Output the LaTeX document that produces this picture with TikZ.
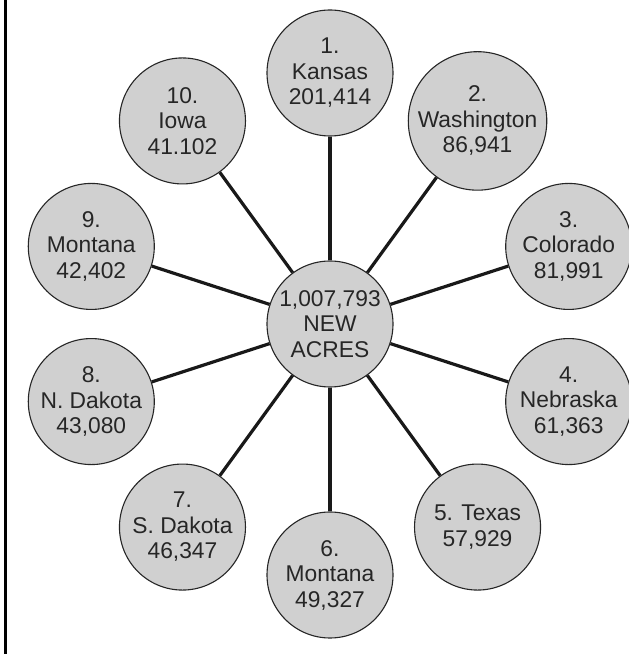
\documentclass[tikz,border=0pt]{standalone}
\usepackage{fontspec}
\setmainfont{Liberation Sans}
\usetikzlibrary{calc}
\definecolor{bubblegray}{HTML}{D0D0D0}
\begin{document}
\begin{tikzpicture}[x=1pt,y=1pt,
  bubble/.style={circle, draw=black!85, line width=1.1pt, fill=bubblegray,
    minimum size=126pt, inner sep=0pt, align=center, text=black!85,
    font=\fontsize{22.8}{25.5}\selectfont},
  spoke/.style={draw=black!90, line width=3.2pt}]
\useasboundingbox (0,0) rectangle (629,654);
\fill[white] (0,0) rectangle (629,654);
\draw[line width=3pt] (5,0) -- (5,654);
\coordinate (o) at (330,330);
\node[bubble] (c) at (o) {1,007,793\\NEW\\ACRES};
\node[bubble] (n1) at ($(o)+(90:251)$) {1.\\Kansas\\201,414};
\node[bubble] (n2) at ($(o)+(54:251)$) {2.\\Washington\\86,941};
\node[bubble] (n3) at ($(o)+(18:251)$) {3.\\Colorado\\81,991};
\node[bubble] (n4) at ($(o)+(-18:251)$) {4.\\Nebraska\\61,363};
\node[bubble] (n5) at ($(o)+(-54:251)$) {5. Texas\\57,929};
\node[bubble] (n6) at ($(o)+(-90:251)$) {6.\\Montana\\49,327};
\node[bubble] (n7) at ($(o)+(-126:251)$) {7.\\S. Dakota\\46,347};
\node[bubble] (n8) at ($(o)+(-162:251)$) {8.\\N. Dakota\\43,080};
\node[bubble] (n9) at ($(o)+(162:251)$) {9.\\Montana\\42,402};
\node[bubble] (n10) at ($(o)+(126:251)$) {10.\\Iowa\\41.102};
\foreach \i in {1,...,10} {\draw[spoke] (c) -- (n\i);}
\end{tikzpicture}
\end{document}
